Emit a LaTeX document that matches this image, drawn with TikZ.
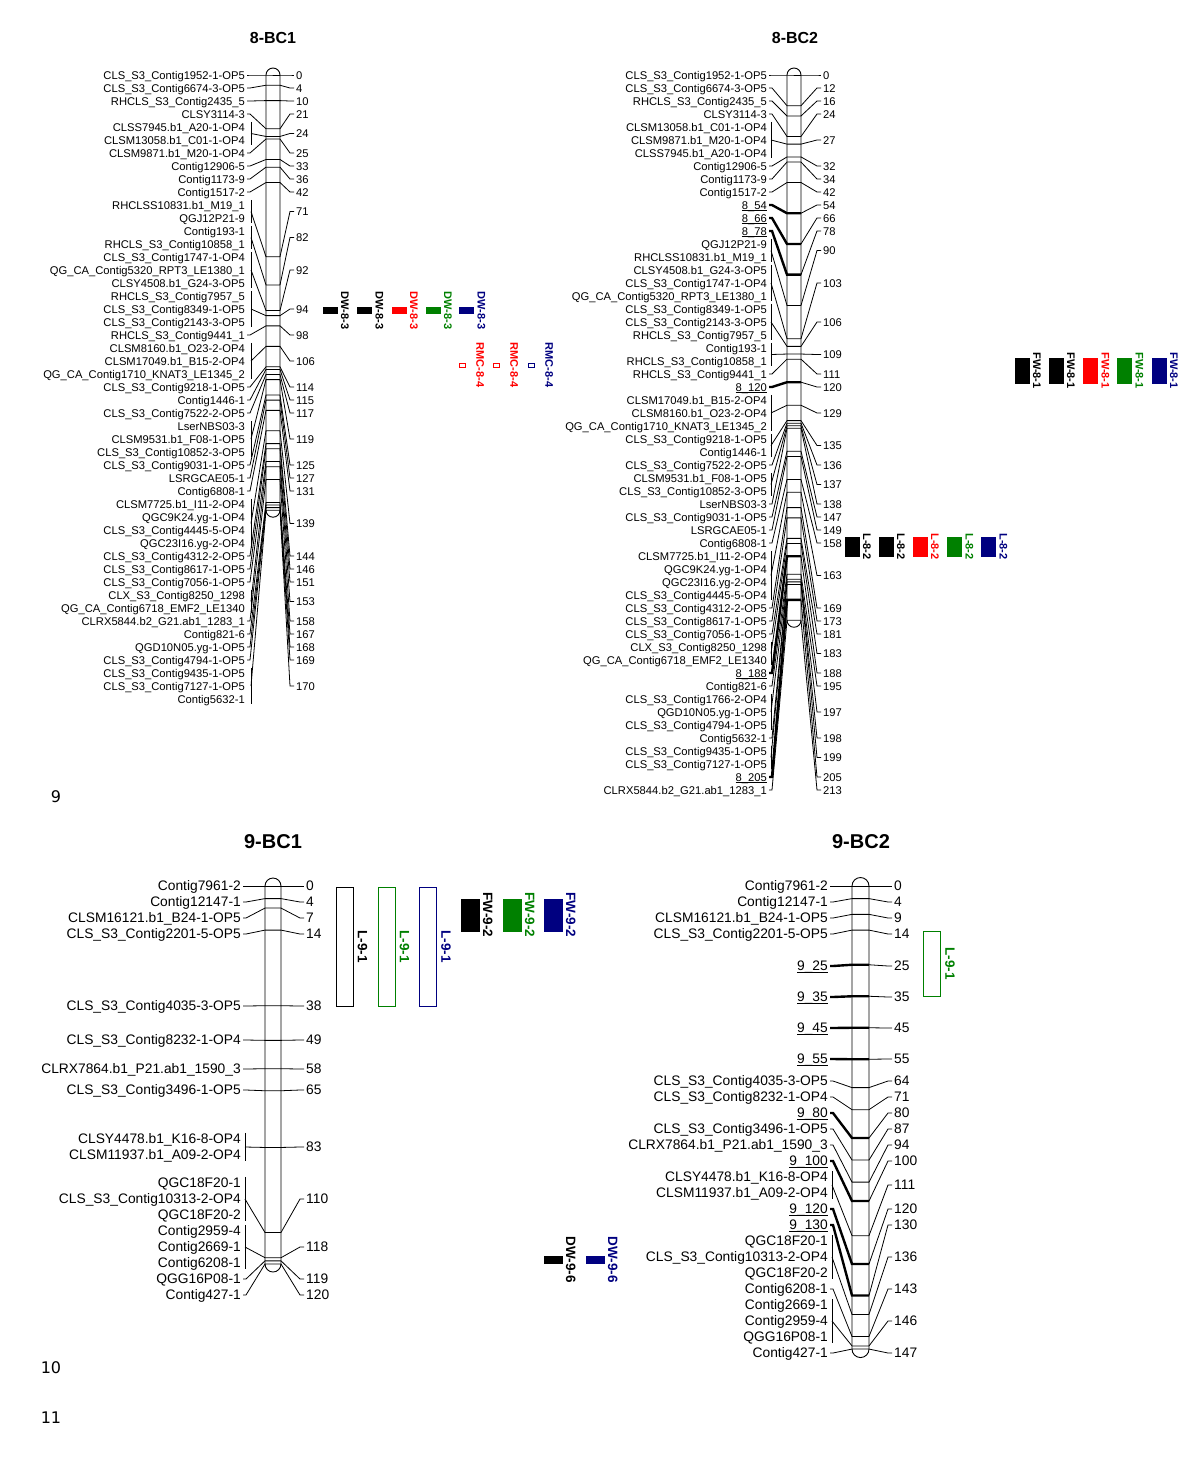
\documentclass[tikz,border=0pt]{standalone}
\usepackage{fontspec}
\setmainfont{Liberation Sans}
\newfontfamily\pagefont{DejaVu Sans}
\usetikzlibrary{positioning}

\definecolor{qgreen}{RGB}{0,128,0}
\definecolor{qnavy}{RGB}{0,0,128}

\tikzset{
  mname/.style={font=\fontsize{\fsz}{\fsz}\selectfont, anchor=east,
    inner sep=0pt, text height=\capht pt, text depth=0pt},
  mpos/.style={font=\fontsize{\fsz}{\fsz}\selectfont, anchor=west,
    inner sep=0pt, text height=\capht pt, text depth=0pt},
  link/.style={line width=0.8pt},
  hot/.style={line width=2.4pt},
  chrbody/.style={draw, fill=white, line width=0.9pt},
  lgtitle/.style={font=\bfseries\fontsize{#1}{#1}\selectfont, inner sep=0pt},
  qfill/.style={fill=#1, draw=#1, inner sep=0pt, line width=0.5pt},
  qopen/.style={draw=#1, inner sep=0pt, line width=1pt},
  qlab/.style={text=#1, rotate=-90, anchor=south, inner sep=2pt,
    font=\bfseries\fontsize{\qsz}{\qsz}\selectfont},
  pagenum/.style={font=\pagefont\fontsize{16}{16}\selectfont, inner sep=0pt}
}

% underlined marker name, rule kept close to the baseline
\newcommand\uname[1]{\underline{\smash{#1}}}

% linkage group: name end, bracket, chromosome left/right, number start,
% y of 0 cM, px per cM, name step, font size
\newcommand\setlg[9]{%
  \def\xlab{#1}\def\xbr{#2}\def\xcl{#3}\def\xcr{#4}\def\xnum{#5}%
  \def\yzero{#6}\def\cmsc{#7}\def\ystep{#8}\def\fsz{#9}%
  \pgfmathsetmacro\capht{0.716*#9}%
  \pgfmathsetmacro\bext{0.45*#9}}

\newcommand\chrom[1]{%
  \pgfmathsetmacro\rr{(\xcr-\xcl)/2}%
  \pgfmathsetmacro\yend{\yzero+\cmsc*#1}%
  \draw[chrbody, rounded corners=\rr pt] (\xcl,\yzero-\rr) rectangle (\xcr,\yend+\rr);}

% locus: id, cM, y of first name, names, style of the name side
\newcommand\locus[5]{%
  \foreach \nm [count=\kk] in {#4}{
    \node[mname] (#1l\kk) at (\xlab,{#3+(\kk-1)*\ystep}) {\nm};
    \xdef\nlast{\kk}}
  \pgfmathsetmacro\ymid{#3+(\nlast-1)*\ystep/2}%
  \pgfmathsetmacro\ychr{\yzero+\cmsc*#2}%
  \node[mpos] (#1n) at (\xnum,\ymid) {#2};
  \ifnum\nlast=1
    \coordinate (#1s) at ([xshift=2pt]#1l1.east);
    \draw[#5] (#1s) -- ++(3,0) -- (\xcl,\ychr) -- (\xcr,\ychr);
  \else
    \coordinate (#1s) at (\xbr,\ymid);
    \draw[link] (\xbr,#3-\bext) -- (\xbr,{#3+(\nlast-1)*\ystep+\bext});
    \draw[#5] (#1s) -- (\xcl,\ychr) -- (\xcr,\ychr);
  \fi
  \draw[link] (\xcr,\ychr) -- ([xshift=-6pt]#1n.west) -- ([xshift=-2pt]#1n.west);}

% qtl bar: name, x, y, width, height, fill or open, colour, label, label gap
\newcommand\qtl[9]{%
  \node[#6=#7, minimum width=#4, minimum height=#5] (#1) at (#2,#3) {};
  \node[qlab=#7] (#1t) at ([xshift=#9pt]#1.east) {#8};}

\begin{document}
\begin{tikzpicture}[x=1pt, y=-1pt]
\useasboundingbox (0,0) rectangle (1200,1457);

% 8-BC1
\setlg{245}{251}{266}{280}{296}{75}{2.56}{13}{11.2}
\chrom{170}
\node[lgtitle=16] (t8a) at (273,38) {8-BC1};
\locus{a1}{0}{75}{CLS\_S3\_Contig1952-1-OP5}{link}
\locus{a2}{4}{88}{CLS\_S3\_Contig6674-3-OP5}{link}
\locus{a3}{10}{101}{RHCLS\_S3\_Contig2435\_5}{link}
\locus{a4}{21}{114}{CLSY3114-3}{link}
\locus{a5}{24}{127}{CLSS7945.b1\_A20-1-OP4, CLSM13058.b1\_C01-1-OP4}{link}
\locus{a6}{25}{153}{CLSM9871.b1\_M20-1-OP4}{link}
\locus{a7}{33}{166}{Contig12906-5}{link}
\locus{a8}{36}{179}{Contig1173-9}{link}
\locus{a9}{42}{192}{Contig1517-2}{link}
\locus{a10}{71}{205}{RHCLSS10831.b1\_M19\_1, QGJ12P21-9}{link}
\locus{a11}{82}{231}{Contig193-1, RHCLS\_S3\_Contig10858\_1}{link}
\locus{a12}{92}{257}{CLS\_S3\_Contig1747-1-OP4, QG\_CA\_Contig5320\_RPT3\_LE1380\_1, CLSY4508.b1\_G24-3-OP5}{link}
\locus{a13}{94}{296}{RHCLS\_S3\_Contig7957\_5, CLS\_S3\_Contig8349-1-OP5, CLS\_S3\_Contig2143-3-OP5}{link}
\locus{a14}{98}{335}{RHCLS\_S3\_Contig9441\_1}{link}
\locus{a15}{106}{348}{CLSM8160.b1\_O23-2-OP4, CLSM17049.b1\_B15-2-OP4, QG\_CA\_Contig1710\_KNAT3\_LE1345\_2}{link}
\locus{a16}{114}{387}{CLS\_S3\_Contig9218-1-OP5}{link}
\locus{a17}{115}{400}{Contig1446-1}{link}
\locus{a18}{117}{413}{CLS\_S3\_Contig7522-2-OP5}{link}
\locus{a19}{119}{426}{LserNBS03-3, CLSM9531.b1\_F08-1-OP5, CLS\_S3\_Contig10852-3-OP5}{link}
\locus{a20}{125}{465}{CLS\_S3\_Contig9031-1-OP5}{link}
\locus{a21}{127}{478}{LSRGCAE05-1}{link}
\locus{a22}{131}{491}{Contig6808-1}{link}
\locus{a23}{139}{504}{CLSM7725.b1\_I11-2-OP4, QGC9K24.yg-1-OP4, CLS\_S3\_Contig4445-5-OP4, QGC23I16.yg-2-OP4}{link}
\locus{a24}{144}{556}{CLS\_S3\_Contig4312-2-OP5}{link}
\locus{a25}{146}{569}{CLS\_S3\_Contig8617-1-OP5}{link}
\locus{a26}{151}{582}{CLS\_S3\_Contig7056-1-OP5}{link}
\locus{a27}{153}{595}{CLX\_S3\_Contig8250\_1298, QG\_CA\_Contig6718\_EMF2\_LE1340}{link}
\locus{a28}{158}{621}{CLRX5844.b2\_G21.ab1\_1283\_1}{link}
\locus{a29}{167}{634}{Contig821-6}{link}
\locus{a30}{168}{647}{QGD10N05.yg-1-OP5}{link}
\locus{a31}{169}{660}{CLS\_S3\_Contig4794-1-OP5}{link}
\locus{a32}{170}{673}{CLS\_S3\_Contig9435-1-OP5, CLS\_S3\_Contig7127-1-OP5, Contig5632-1}{link}

% 8-BC2
\setlg{767}{771}{787}{801}{823}{75}{2.56}{13}{11.2}
\chrom{213}
\node[lgtitle=16] (t8b) at (795,38) {8-BC2};
\locus{b1}{0}{75}{CLS\_S3\_Contig1952-1-OP5}{link}
\locus{b2}{12}{88}{CLS\_S3\_Contig6674-3-OP5}{link}
\locus{b3}{16}{101}{RHCLS\_S3\_Contig2435\_5}{link}
\locus{b4}{24}{114}{CLSY3114-3}{link}
\locus{b5}{27}{127}{CLSM13058.b1\_C01-1-OP4, CLSM9871.b1\_M20-1-OP4, CLSS7945.b1\_A20-1-OP4}{link}
\locus{b6}{32}{166}{Contig12906-5}{link}
\locus{b7}{34}{179}{Contig1173-9}{link}
\locus{b8}{42}{192}{Contig1517-2}{link}
\locus{b9}{54}{205}{\uname{8\_54}}{hot}
\locus{b10}{66}{218}{\uname{8\_66}}{hot}
\locus{b11}{78}{231}{\uname{8\_78}}{hot}
\locus{b12}{90}{244}{QGJ12P21-9, RHCLSS10831.b1\_M19\_1}{link}
\locus{b13}{103}{270}{CLSY4508.b1\_G24-3-OP5, CLS\_S3\_Contig1747-1-OP4, QG\_CA\_Contig5320\_RPT3\_LE1380\_1}{link}
\locus{b14}{106}{309}{CLS\_S3\_Contig8349-1-OP5, CLS\_S3\_Contig2143-3-OP5, RHCLS\_S3\_Contig7957\_5}{link}
\locus{b15}{109}{348}{Contig193-1, RHCLS\_S3\_Contig10858\_1}{link}
\locus{b16}{111}{374}{RHCLS\_S3\_Contig9441\_1}{link}
\locus{b17}{120}{387}{\uname{8\_120}}{hot}
\locus{b18}{129}{400}{CLSM17049.b1\_B15-2-OP4, CLSM8160.b1\_O23-2-OP4, QG\_CA\_Contig1710\_KNAT3\_LE1345\_2}{link}
\locus{b19}{135}{439}{CLS\_S3\_Contig9218-1-OP5, Contig1446-1}{link}
\locus{b20}{136}{465}{CLS\_S3\_Contig7522-2-OP5}{link}
\locus{b21}{137}{478}{CLSM9531.b1\_F08-1-OP5, CLS\_S3\_Contig10852-3-OP5}{link}
\locus{b22}{138}{504}{LserNBS03-3}{link}
\locus{b23}{147}{517}{CLS\_S3\_Contig9031-1-OP5}{link}
\locus{b24}{149}{530}{LSRGCAE05-1}{link}
\locus{b25}{158}{543}{Contig6808-1}{link}
\locus{b26}{163}{556}{CLSM7725.b1\_I11-2-OP4, QGC9K24.yg-1-OP4, QGC23I16.yg-2-OP4, CLS\_S3\_Contig4445-5-OP4}{link}
\locus{b27}{169}{608}{CLS\_S3\_Contig4312-2-OP5}{link}
\locus{b28}{173}{621}{CLS\_S3\_Contig8617-1-OP5}{link}
\locus{b29}{181}{634}{CLS\_S3\_Contig7056-1-OP5}{link}
\locus{b30}{183}{647}{CLX\_S3\_Contig8250\_1298, QG\_CA\_Contig6718\_EMF2\_LE1340}{link}
\locus{b31}{188}{673}{\uname{8\_188}}{hot}
\locus{b32}{195}{686}{Contig821-6}{link}
\locus{b33}{197}{699}{CLS\_S3\_Contig1766-2-OP4, QGD10N05.yg-1-OP5, CLS\_S3\_Contig4794-1-OP5}{link}
\locus{b34}{198}{738}{Contig5632-1}{link}
\locus{b35}{199}{751}{CLS\_S3\_Contig9435-1-OP5, CLS\_S3\_Contig7127-1-OP5}{link}
\locus{b36}{205}{777}{\uname{8\_205}}{hot}
\locus{b37}{213}{790}{CLRX5844.b2\_G21.ab1\_1283\_1}{link}

% 9-BC1
\setlg{241}{245}{265}{281}{306}{886}{3.15}{16}{13.8}
\chrom{120}
\node[lgtitle=20] (t9a) at (273,842) {9-BC1};
\locus{c1}{0}{886}{Contig7961-2}{link}
\locus{c2}{4}{902}{Contig12147-1}{link}
\locus{c3}{7}{918}{CLSM16121.b1\_B24-1-OP5}{link}
\locus{c4}{14}{934}{CLS\_S3\_Contig2201-5-OP5}{link}
\locus{c5}{38}{1006}{CLS\_S3\_Contig4035-3-OP5}{link}
\locus{c6}{49}{1040}{CLS\_S3\_Contig8232-1-OP4}{link}
\locus{c7}{58}{1069}{CLRX7864.b1\_P21.ab1\_1590\_3}{link}
\locus{c8}{65}{1090}{CLS\_S3\_Contig3496-1-OP5}{link}
\locus{c9}{83}{1139}{CLSY4478.b1\_K16-8-OP4, CLSM11937.b1\_A09-2-OP4}{link}
\locus{c10}{110}{1183}{QGC18F20-1, CLS\_S3\_Contig10313-2-OP4, QGC18F20-2}{link}
\locus{c11}{118}{1231}{Contig2959-4, Contig2669-1, Contig6208-1}{link}
\locus{c12}{119}{1279}{QGG16P08-1}{link}
\locus{c13}{120}{1295}{Contig427-1}{link}

% 9-BC2
\setlg{828}{832}{852}{869}{894}{886}{3.15}{16}{13.8}
\chrom{147}
\node[lgtitle=20] (t9b) at (861,842) {9-BC2};
\locus{d1}{0}{886}{Contig7961-2}{link}
\locus{d2}{4}{902}{Contig12147-1}{link}
\locus{d3}{9}{918}{CLSM16121.b1\_B24-1-OP5}{link}
\locus{d4}{14}{934}{CLS\_S3\_Contig2201-5-OP5}{link}
\locus{d5}{25}{966}{\uname{9\_25}}{hot}
\locus{d6}{35}{997}{\uname{9\_35}}{hot}
\locus{d7}{45}{1028}{\uname{9\_45}}{hot}
\locus{d8}{55}{1059}{\uname{9\_55}}{hot}
\locus{d9}{64}{1081}{CLS\_S3\_Contig4035-3-OP5}{link}
\locus{d10}{71}{1097}{CLS\_S3\_Contig8232-1-OP4}{link}
\locus{d11}{80}{1113}{\uname{9\_80}}{hot}
\locus{d12}{87}{1129}{CLS\_S3\_Contig3496-1-OP5}{link}
\locus{d13}{94}{1145}{CLRX7864.b1\_P21.ab1\_1590\_3}{link}
\locus{d14}{100}{1161}{\uname{9\_100}}{hot}
\locus{d15}{111}{1177}{CLSY4478.b1\_K16-8-OP4, CLSM11937.b1\_A09-2-OP4}{link}
\locus{d16}{120}{1209}{\uname{9\_120}}{hot}
\locus{d17}{130}{1225}{\uname{9\_130}}{hot}
\locus{d18}{136}{1241}{QGC18F20-1, CLS\_S3\_Contig10313-2-OP4, QGC18F20-2}{link}
\locus{d19}{143}{1289}{Contig6208-1}{link}
\locus{d20}{146}{1305}{Contig2669-1, Contig2959-4, QGG16P08-1}{link}
\locus{d21}{147}{1353}{Contig427-1}{link}

% QTL bars, group 8
\def\qsz{11}
\qtl{dwa}{330}{310.5}{14}{6}{qfill}{black}{DW-8-3}{1.5}
\qtl{dwb}{364.5}{310.5}{14}{6}{qfill}{black}{DW-8-3}{1.5}
\qtl{dwc}{399}{310.5}{14}{6}{qfill}{red}{DW-8-3}{1.5}
\qtl{dwd}{433}{310.5}{14}{6}{qfill}{qgreen}{DW-8-3}{1.5}
\qtl{dwe}{466.5}{310.5}{14}{6}{qfill}{qnavy}{DW-8-3}{1.5}
\qtl{rma}{462.5}{365}{6}{4}{qopen}{red}{RMC-8-4}{8}
\qtl{rmb}{496.5}{365}{6}{4}{qopen}{red}{RMC-8-4}{8}
\qtl{rmc}{531.5}{365}{6}{4}{qopen}{qnavy}{RMC-8-4}{8}
\qtl{fwa}{1022}{370.5}{14}{25}{qfill}{black}{FW-8-1}{1.5}
\qtl{fwb}{1056}{370.5}{14}{25}{qfill}{black}{FW-8-1}{1.5}
\qtl{fwc}{1090.5}{370.5}{14}{25}{qfill}{red}{FW-8-1}{1.5}
\qtl{fwd}{1124.5}{370.5}{14}{25}{qfill}{qgreen}{FW-8-1}{1.5}
\qtl{fwe}{1159}{370.5}{14}{25}{qfill}{qnavy}{FW-8-1}{1.5}
\qtl{lwa}{852}{546.5}{14}{19}{qfill}{black}{L-8-2}{1.5}
\qtl{lwb}{886}{546.5}{14}{19}{qfill}{black}{L-8-2}{1.5}
\qtl{lwc}{920}{546.5}{14}{19}{qfill}{red}{L-8-2}{1.5}
\qtl{lwd}{954.5}{546.5}{14}{19}{qfill}{qgreen}{L-8-2}{1.5}
\qtl{lwe}{988.5}{546.5}{14}{19}{qfill}{qnavy}{L-8-2}{1.5}

% QTL bars, group 9
\def\qsz{13.5}
\qtl{lna}{344.5}{946.5}{17}{119}{qopen}{black}{L-9-1}{2}
\qtl{lnb}{386.5}{946.5}{17}{119}{qopen}{qgreen}{L-9-1}{2}
\qtl{lnc}{428}{946.5}{17}{119}{qopen}{qnavy}{L-9-1}{2}
\qtl{fna}{470}{915}{18}{32}{qfill}{black}{FW-9-2}{1.5}
\qtl{fnb}{512}{915}{18}{32}{qfill}{qgreen}{FW-9-2}{1.5}
\qtl{fnc}{553}{915}{18}{32}{qfill}{qnavy}{FW-9-2}{1.5}
\qtl{dna}{553}{1259.5}{18}{7}{qfill}{black}{DW-9-6}{1.5}
\qtl{dnb}{595}{1259.5}{18}{7}{qfill}{qnavy}{DW-9-6}{1.5}
\qtl{lnd}{932}{963.5}{17}{65}{qopen}{qgreen}{L-9-1}{2}

% figure numbers
\node[pagenum] (p9) at (56,797) {9};
\node[pagenum] (p10) at (51,1368) {10};
\node[pagenum] (p11) at (51,1418) {11};
\end{tikzpicture}
\end{document}
